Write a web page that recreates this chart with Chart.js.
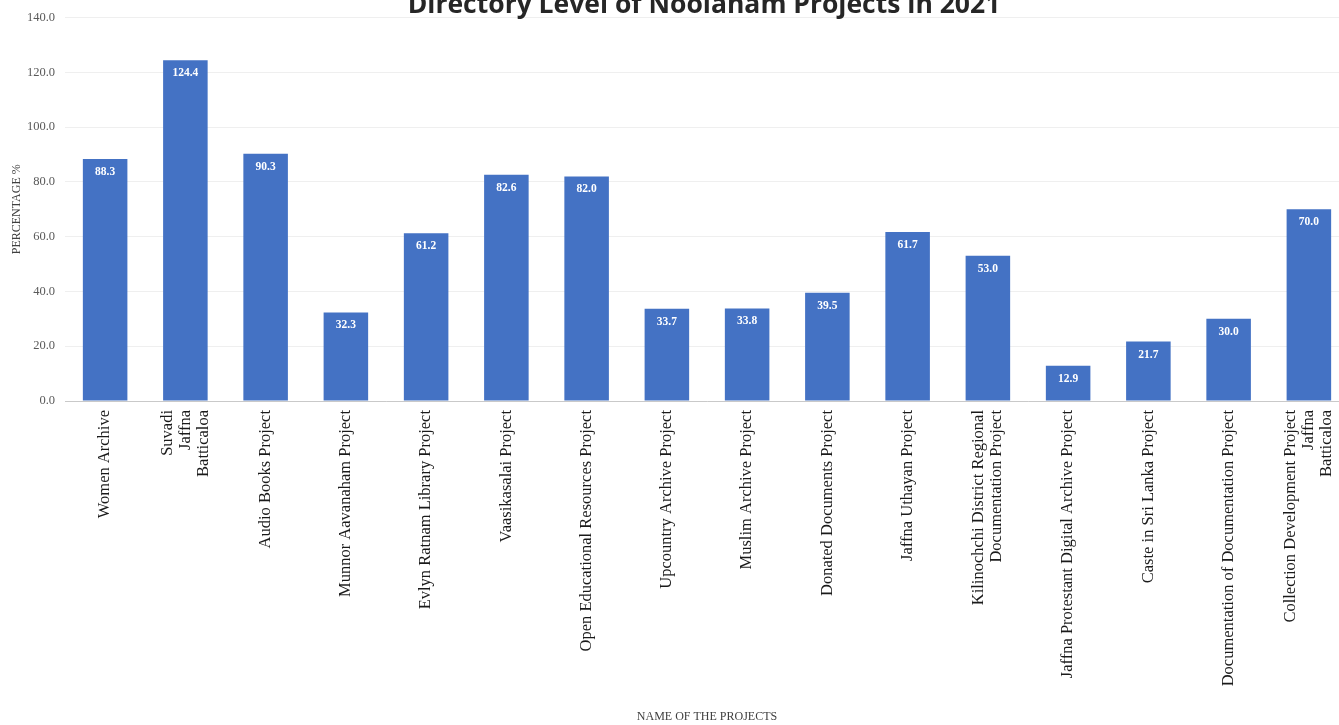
<!DOCTYPE html>
<html>
<head>
<meta charset="utf-8">
<script src="https://cdn.jsdelivr.net/npm/chart.js@4"></script>
<style>
  html, body { margin: 0; padding: 0; background: #fff; overflow: hidden; }
  #wrap { position: relative; width: 1339px; height: 725px; overflow: hidden; }
  #projChart { position: absolute; left: 0; top: 0; }
  #title {
    position: absolute; left: 0; width: 1408px; top: -10px; text-align: center;
    font: bold 26.5px "Open Sans", sans-serif; line-height: 26.5px; color: #262626;
  }
</style>
</head>
<body>
<div id="wrap">
  <canvas id="projChart" width="1349" height="725"></canvas>
  <div id="title">Directory Level of Noolaham Projects in 2021</div>
</div>
<script>
// 프로젝트 이름 (여러 줄 라벨은 배열)
const projects = [
  "Women Archive",
  ["Suvadi", "Jaffna", "Batticaloa"],
  "Audio Books Project",
  "Munnor Aavanaham Project",
  "Evlyn Ratnam Library Project",
  "Vaasikasalai Project",
  "Open Educational Resources Project",
  "Upcountry Archive Project",
  "Muslim Archive Project",
  "Donated Documents Project",
  "Jaffna Uthayan Project",
  ["Kilinochchi District Regional", "Documentation Project"],
  "Jaffna Protestant Digital Archive Project",
  "Caste in Sri Lanka Project",
  "Documentation of Documentation Project",
  ["Collection Development Project", "Jaffna", "Batticaloa"],
];
const percentages = [88.3, 124.4, 90.3, 32.3, 61.2, 82.6, 82.0, 33.7, 33.8, 39.5, 61.7, 53.0, 12.9, 21.7, 30.0, 70.0];
const yMax = 140;
const yStep = 20;

const serif = '"Liberation Serif", "Times New Roman", serif';

// 막대 안쪽 값 표시
const valueLabels = {
  id: "valueLabels",
  afterDatasetsDraw(chart) {
    const ctx = chart.ctx;
    const meta = chart.getDatasetMeta(0);
    ctx.save();
    ctx.fillStyle = "#ffffff";
    ctx.font = "bold 11.5px " + serif;
    ctx.textAlign = "center";
    ctx.textBaseline = "middle";
    meta.data.forEach((bar, i) => {
      ctx.fillText(percentages[i].toFixed(1), bar.x, bar.y + 13);
    });
    ctx.restore();
  },
};

// 여러 줄 라벨을 틱 가운데로 맞춤
const shifted = new WeakSet();
const centerMultiline = {
  id: "centerMultiline",
  beforeDraw(chart) {
    try {
      const scale = chart.scales.x;
      const getter = scale.getLabelItems || scale._getLabelItems;
      if (!getter) return;
      const items = getter.call(scale, chart.chartArea);
      items.forEach((item) => {
        if (shifted.has(item)) return;
        shifted.add(item);
        const tr = item.options ? item.options.translation : item.translation;
        if (tr && Array.isArray(item.label) && item.label.length > 1) {
          const lh = item.font.lineHeight;
          tr[0] -= ((item.label.length - 1) * lh) / 2;
        }
      });
    } catch (e) {
      console.error("라벨 정렬 오류:", e);
    }
  },
};

try {
  const ctx = document.getElementById("projChart").getContext("2d");
  new Chart(ctx, {
    type: "bar",
    data: {
      labels: projects,
      datasets: [
        {
          label: "PERCENTAGE %",
          data: percentages,
          backgroundColor: "#4472c4",
          borderWidth: 0,
          borderRadius: 0,
          barPercentage: 0.555,
          categoryPercentage: 1,
        },
      ],
    },
    options: {
      responsive: false,
      animation: false,
      layout: { padding: { top: 17, left: 0, right: 0, bottom: 0 } },
      plugins: {
        legend: { display: false },
        tooltip: { enabled: false },
      },
      scales: {
        x: {
          grid: { display: false, drawTicks: false },
          border: { display: true, color: "#c9c9c9", width: 1 },
          ticks: {
            autoSkip: false,
            minRotation: 90,
            maxRotation: 90,
            padding: 9,
            color: "#1a1a1a",
            font: { family: serif, size: 16.5, lineHeight: 1.1 },
          },
          title: {
            display: true,
            text: "NAME OF THE PROJECTS",
            color: "#404040",
            font: { family: serif, size: 12 },
            padding: { top: 0, bottom: 1 },
          },
          afterFit(s) {
            s.height = 324;
            s.paddingLeft = 0;
            s.paddingRight = 0;
          },
        },
        y: {
          min: 0,
          max: yMax,
          ticks: {
            stepSize: yStep,
            padding: 10,
            color: "#595959",
            font: { family: serif, size: 12.5 },
            callback: (v) => Number(v).toFixed(1),
          },
          grid: { color: "#efefef", drawTicks: false },
          border: { display: false },
          title: {
            display: true,
            text: "PERCENTAGE %",
            color: "#404040",
            font: { family: serif, size: 12 },
            padding: { top: 10, bottom: 0 },
          },
          afterFit(s) { s.width = 65; },
        },
      },
    },
    plugins: [centerMultiline, valueLabels],
  });
} catch (e) {
  console.error("차트 생성 중 오류 발생:", e);
  document.body.insertAdjacentHTML("beforeend", "<pre>" + e + "</pre>");
}
</script>
</body>
</html>
